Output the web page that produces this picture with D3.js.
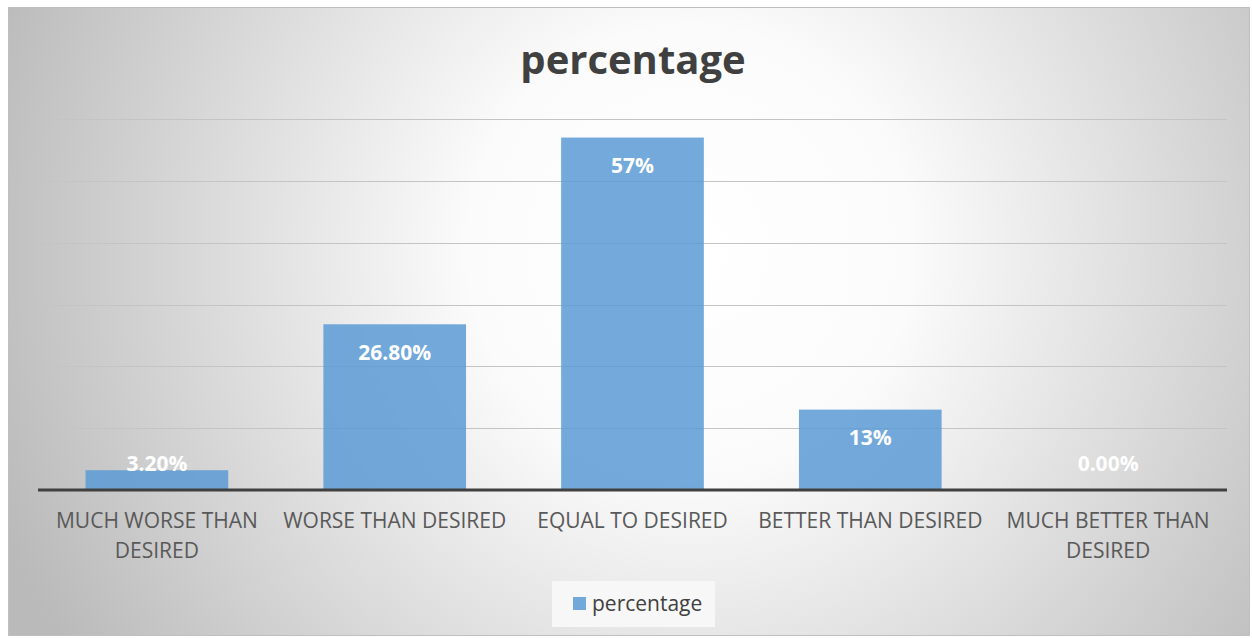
<!DOCTYPE html>
<html>
<head>
<meta charset="utf-8">
<script src="https://cdn.jsdelivr.net/npm/d3@7"></script>
<style>
  html, body { margin: 0; padding: 0; background: #ffffff; }
  svg { display: block; }
</style>
</head>
<body>
<svg id="chart" width="1252" height="638"></svg>
<script>
// Survey responses: share of answers per category
const categories = [
  ["MUCH WORSE THAN", "DESIRED"],
  ["WORSE THAN DESIRED"],
  ["EQUAL TO DESIRED"],
  ["BETTER THAN DESIRED"],
  ["MUCH BETTER THAN", "DESIRED"]
];
const values = [0.032, 0.268, 0.57, 0.13, 0.0];
const valueLabels = ["3.20%", "26.80%", "57%", "13%", "0.00%"];
const gridTicks = [0, 0.1, 0.2, 0.3, 0.4, 0.5, 0.6];
const seriesName = "percentage";

const font = "'Open Sans', 'Noto Sans', sans-serif";
const svg = d3.select("#chart");

// background with soft radial shading
const defs = svg.append("defs");
const grad = defs.append("radialGradient")
  .attr("id", "bg").attr("gradientUnits", "userSpaceOnUse")
  .attr("cx", 690).attr("cy", 250).attr("r", 740);
grad.append("stop").attr("offset", "0%").attr("stop-color", "#ffffff");
grad.append("stop").attr("offset", "30%").attr("stop-color", "#fbfbfb");
grad.append("stop").attr("offset", "100%").attr("stop-color", "#bababa");

svg.append("rect")
  .attr("x", 8.5).attr("y", 7.5).attr("width", 1241).attr("height", 628)
  .attr("fill", "url(#bg)").attr("stroke", "#bfbfbf").attr("stroke-width", 1);

// title
svg.append("text")
  .attr("x", 633).attr("y", 74)
  .attr("text-anchor", "middle")
  .attr("font-family", font).attr("font-weight", 700)
  .attr("font-size", 40).attr("fill", "#404040")
  .text(seriesName);

const idx = categories.map((d, i) => i);
const x = d3.scaleBand().domain(idx).range([38, 1227]).paddingInner(0.4).paddingOuter(0.2);
const y = d3.scaleLinear().domain([0, 0.6]).range([490, 119]);

// horizontal gridlines
svg.append("g").selectAll("line")
  .data(gridTicks.filter(t => t > 0))
  .join("line")
  .attr("x1", 38).attr("x2", 1227)
  .attr("y1", d => Math.round(y(d)) + 0.5).attr("y2", d => Math.round(y(d)) + 0.5)
  .attr("stroke", "#c4c4c4").attr("stroke-width", 1);

// bars
svg.append("g").selectAll("rect")
  .data(values)
  .join("rect")
  .attr("x", (d, i) => x(i))
  .attr("width", x.bandwidth())
  .attr("y", d => y(d))
  .attr("height", d => y(0) - y(d))
  .attr("fill", "#5b9bd5").attr("fill-opacity", 0.85);

// baseline axis
const xAxis = d3.axisBottom(x).tickSize(0).tickFormat("");
const axisG = svg.append("g").attr("transform", `translate(0,${y(0)})`).call(xAxis);
axisG.select(".domain").remove();
axisG.append("line")
  .attr("x1", 38).attr("x2", 1227).attr("y1", 0).attr("y2", 0)
  .attr("stroke", "#404040").attr("stroke-width", 3);

// category labels (wrapped)
const catG = svg.append("g");
categories.forEach((lines, i) => {
  const cx = x(i) + x.bandwidth() / 2;
  const t = catG.append("text")
    .attr("x", cx).attr("y", 528)
    .attr("text-anchor", "middle")
    .attr("font-family", font).attr("font-size", 21)
    .attr("fill", "#595959");
  lines.forEach((ln, j) => {
    t.append("tspan").attr("x", cx).attr("y", 528 + j * 30).text(ln);
  });
});

// value labels
svg.append("g").selectAll("text")
  .data(values)
  .join("text")
  .attr("x", (d, i) => x(i) + x.bandwidth() / 2)
  .attr("y", d => Math.min(y(d) + 28, y(0) - 27) + 7.5)
  .attr("text-anchor", "middle")
  .attr("font-family", font).attr("font-weight", 700)
  .attr("font-size", 21).attr("fill", "#ffffff")
  .text((d, i) => valueLabels[i]);

// legend
const lg = svg.append("g");
lg.append("rect").attr("x", 552).attr("y", 581).attr("width", 163).attr("height", 46)
  .attr("fill", "#f7f7f7");
lg.append("rect").attr("x", 573).attr("y", 597).attr("width", 13).attr("height", 13)
  .attr("fill", "#5b9bd5").attr("fill-opacity", 0.85);
lg.append("text").attr("x", 592).attr("y", 611)
  .attr("font-family", font).attr("font-size", 21).attr("fill", "#404040")
  .text(seriesName);
</script>
</body>
</html>
